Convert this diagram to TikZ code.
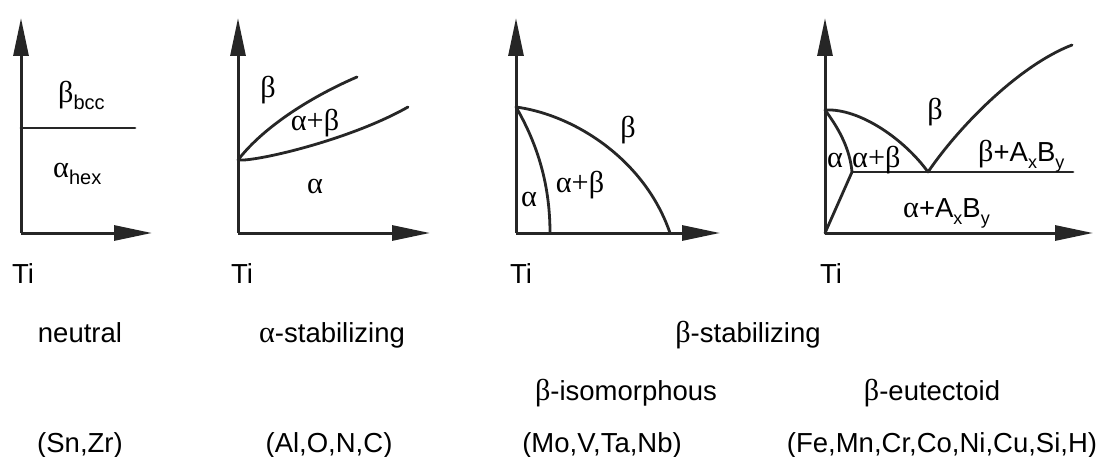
\documentclass[tikz,border=0pt]{standalone}
\usepackage{fontspec}
\setmainfont{Liberation Sans}
\newfontfamily\grk[Scale=1.1]{Liberation Serif}
\usetikzlibrary{arrows.meta}
\newcommand{\al}{{\grk α}}
\newcommand{\be}{{\grk β}}
\newcommand{\lsub}[1]{\raisebox{-7pt}{\fontsize{20}{20}\selectfont #1}}
\newcommand{\ssub}[1]{\raisebox{-7pt}{\fontsize{18}{18}\selectfont #1}}
\tikzset{
  axis/.style={line width=3pt, draw=black!85, -{Triangle[length=38pt,width=15pt]}},
  bline/.style={line width=2.8pt, draw=black!85, line cap=round},
  lbl/.style={inner sep=0pt, font=\fontsize{27.5}{30}\selectfont},
}
\begin{document}
\begin{tikzpicture}[x=1pt,y=-1pt]
\useasboundingbox (0,0) rectangle (1097,457);
% ---------- panel 1 ----------
\coordinate (o1) at (21,233);
\coordinate (y1) at (21,18);
\coordinate (x1) at (152,233);
\coordinate (h1a) at (21,128);
\coordinate (h1b) at (135,128);
\draw[axis] (o1) -- (y1);
\draw[axis] (o1) -- (x1);
\draw[bline] (h1a) -- (h1b);
\node[lbl, anchor=base west] (bbcc) at (58,103) {\be\lsub{bcc}};
\node[lbl, anchor=base west] (ahex) at (53,178) {\al\lsub{hex}};
\node[lbl, anchor=base west] (ti1) at (12,283) {Ti};
% ---------- panel 2 ----------
\coordinate (o2) at (238,233);
\coordinate (y2) at (238,18);
\coordinate (x2) at (430,233);
\coordinate (p2) at (238,160);
\coordinate (u2) at (357,77);
\coordinate (l2) at (408,107);
\draw[axis] (o2) -- (y2);
\draw[axis] (o2) -- (x2);
\draw[bline] (p2) .. controls (265,125) and (315,95) .. (u2);
\draw[bline] (p2) .. controls (255,162) and (350,140) .. (l2);
\node[lbl] (b2) at (268,90) {\be};
\node[lbl] (ab2) at (315,123) {\al{\grk +}\be};
\node[lbl] (a2) at (315,187) {\al};
\node[lbl, anchor=base west] (ti2) at (231,283) {Ti};
% ---------- panel 3 ----------
\coordinate (o3) at (516,233);
\coordinate (y3) at (516,18);
\coordinate (x3) at (720,233);
\coordinate (p3) at (516,107);
\coordinate (i3) at (550,233);
\coordinate (e3) at (670,233);
\draw[axis] (o3) -- (y3);
\draw[axis] (o3) -- (x3);
\draw[bline] (p3) .. controls (535,140) and (550,180) .. (i3);
\draw[bline] (p3) .. controls (575,115) and (645,160) .. (e3);
\node[lbl] (b3) at (628,130) {\be};
\node[lbl] (ab3) at (580,185) {\al{\grk +}\be};
\node[lbl] (a3) at (529,200) {\al};
\node[lbl, anchor=base west] (ti3) at (510,283) {Ti};
% ---------- panel 4 ----------
\coordinate (o4) at (825,233);
\coordinate (y4) at (825,18);
\coordinate (x4) at (1093,233);
\coordinate (p4) at (825,110);
\coordinate (eu) at (928,172);
\coordinate (al4) at (852,172);
\coordinate (er4) at (1073,172);
\coordinate (t4) at (1072,45);
\draw[axis] (o4) -- (y4);
\draw[axis] (o4) -- (x4);
\draw[bline] (p4) .. controls (860,108) and (905,140) .. (eu);
\draw[bline] (eu) .. controls (960,125) and (1020,65) .. (t4);
\draw[bline] (p4) .. controls (840,130) and (850,150) .. (al4) -- (o4);
\draw[bline] (al4) -- (er4);
\node[lbl] (b4) at (935,112) {\be};
\node[lbl, anchor=base west] (a4) at (827,168) {\al};
\node[lbl, anchor=base west] (ab4) at (852,168) {\al{\grk +}\be};
\node[lbl, anchor=base west] (bab) at (978,162) {\be+A\ssub{x}B\ssub{y}};
\node[lbl, anchor=base west] (aab) at (903,218) {\al+A\ssub{x}B\ssub{y}};
\node[lbl, anchor=base west] (ti4) at (820,283) {Ti};
% ---------- captions ----------
\node[lbl, anchor=base] (neu) at (80,342) {neutral};
\node[lbl, anchor=base] (astab) at (332,342) {\al-stabilizing};
\node[lbl, anchor=base] (bstab) at (748,342) {\be-stabilizing};
\node[lbl, anchor=base] (biso) at (626,400) {\be-isomorphous};
\node[lbl, anchor=base] (beut) at (932,400) {\be-eutectoid};
\node[lbl, anchor=base] (el1) at (80,452) {(Sn,Zr)};
\node[lbl, anchor=base] (el2) at (329,452) {(Al,O,N,C)};
\node[lbl, anchor=base] (el3) at (602,452) {(Mo,V,Ta,Nb)};
\node[lbl, anchor=base] (el4) at (942,452) {(Fe,Mn,Cr,Co,Ni,Cu,Si,H)};
\end{tikzpicture}
\end{document}
